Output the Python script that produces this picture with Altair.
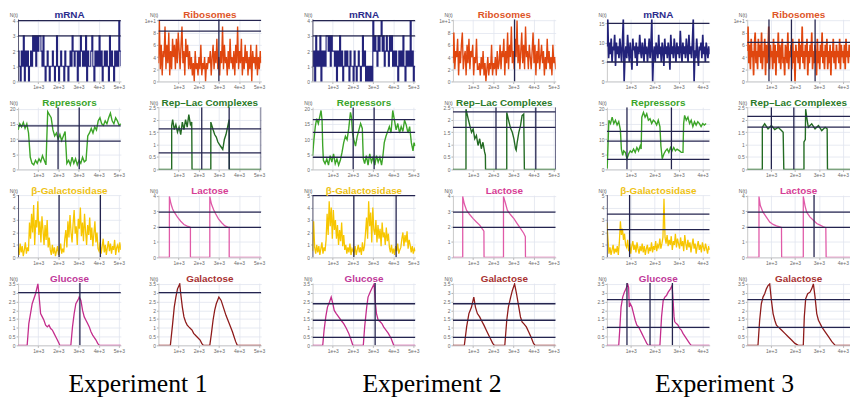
import altair as alt
import numpy as np
import pandas as pd

# ------------------------------------------------------------------ data
EXPERIMENTS = ["Experiment 1", "Experiment 2", "Experiment 3"]
T_MAX = [5100, 5100, 4300]
X_TICKS = [[1000, 2000, 3000, 4000, 5000],
           [1000, 2000, 3000, 4000, 5000],
           [1000, 2000, 3000, 4000]]

# ---- Experiment 1
e1_mrna = [2,1,0,2,1,3,0,2,1,2,0,1,2,1,
           3,2,3,1,3,2,3,3,2,1,3,
           1,0,1,2,1,0,1,1,2,1,0,1,3,1,0,1,2,1,1,0,2,1,1,0,1,
           2,1,3,2,1,2,2,0,2,1,3,2,
           1,2,1,3,0,2,1,1,2,3,1,0,2,1,2,1,3,1,2,0,1,2,
           1,2,1,0,3,1,2,1,0,2,1,2,1,4,2,1]
e1_ribo = [3,10,2,6,1,5,4,9,2,6,3,8,1,5,2,7,
           4,6,2,7,3,8,5,2,6,9,3,5,1,7,4,6,2,5,
           2,4,1,3,0,5,2,3,1,4,2,6,1,3,2,4,0,3,2,4,
           3,5,1,4,6,2,5,3,7,2,4,1,5,3,9,2,6,3,4,1,5,2,7,3,
           4,2,5,1,6,3,9,2,5,3,7,1,4,2,6,3,5,1,4,2,6,0,5,3,4,2,6,1,4,2,5,3]
e1_rep = [13,15,14,15.5,13.5,15,12,4,2,1.5,3,2,3.5,2.5,4.5,3,1.5,19,18,17,
          13,11,12,10,11.5,9.5,11,12.5,2,3,1.5,4,2,3.5,1.5,3,2,4,2.5,3,
          11,12,13.5,12,14,13,16,17,15,14.5,16,15,17,18.5,16,15,17,16,14.5,15]
e1_rl_t = [0,658,658,706,786,866,946,1026,1107,1187,1267,1347,1428,1508,1588,1652,1668,
           2600,2600,2711,2791,2871,2951,3031,3112,3192,3272,3352,3432,3510,3520,5100]
e1_rl_v = [0,0,1.76,2.0,1.6,1.8,1.5,1.7,1.4,1.9,1.6,2.0,1.7,2.2,1.8,1.9,0,
           0,1.9,1.6,1.4,1.3,1.1,1.0,0.9,0.8,1.2,1.4,1.7,2.0,0,0]
e1_bgal = [0.8,0.2,1.1,0.4,0.9,0.1,0.6,1.2,0.3,0.8,0.5,
           2.8,1.5,3.5,2.0,4.2,1.0,3.0,2.4,4.5,1.8,2.9,1.2,3.3,2.2,1.0,2.6,1.4,3.0,0.8,1.6,
           0.6,0.2,1.0,0.3,0.8,0.1,0.5,0.9,0.2,0.6,1.1,0.3,0.7,0.4,
           1.5,2.2,0.8,2.9,1.6,3.4,2.0,1.2,2.7,3.8,1.9,2.5,1.0,3.1,2.3,4.0,1.7,2.8,1.3,3.5,
           2.1,1.0,2.6,1.8,3.2,1.4,2.4,0.9,1.9,2.9,1.2,2.0,0.7,
           0.5,1.2,0.3,0.9,1.5,0.4,1.0,0.2,0.8,1.3,0.5,1.1,0.3,0.9,0.6,1.4,0.2,0.8,1.0,0.4,1.2,0.6]
e1_lac_t = [0,545,545,626,706,786,946,1107,1267,1428,1540,1588,1588,
            2550,2550,2630,2740,2830,2980,3140,3300,3440,3512,3512,5100]
e1_lac_v = [0,0,3.96,3.47,3.15,2.94,2.62,2.35,2.14,2.03,1.99,1.95,0,
            0,3.96,3.47,3.1,2.85,2.5,2.25,2.05,1.97,1.95,0,0]
e1_glu_t = [0,450,533,700,867,983,1033,1117,1200,1283,1367,1450,1533,1617,1700,1783,1867,1950,2033,2067,
            2617,2700,2783,2867,3000,3033,3117,3200,3283,3367,3450,3533,3617,3700,3867,3950,4033,5100]
e1_glu_v = [0,0,1.24,2.37,2.94,3.5,2.94,1.81,1.62,1.43,1.15,1.05,1.15,0.96,0.87,0.68,0.49,0.30,0.11,0,
            0,1.05,1.81,2.37,2.65,2.75,2.56,1.99,1.62,1.43,1.24,1.05,0.77,0.58,0.30,0.11,0,0]
e1_gal_t = [0,593,706,786,866,946,1059,1107,1187,1267,1347,1428,1508,1588,1668,1748,1909,2069,2149,2230,
            2550,2631,2711,2791,2871,3000,3112,3192,3272,3352,3513,3673,3753,3834,3914,5100]
e1_gal_v = [0,0,1.24,2.18,2.75,3.22,3.5,2.94,2.18,1.62,1.34,1.15,1.05,0.96,0.87,0.68,0.49,0.30,0.11,0,
            0,0.68,1.43,1.99,2.37,2.75,2.56,2.28,1.99,1.71,1.24,0.77,0.49,0.21,0,0]

# ---- Experiment 2
e2_mrna = [1,2,0,3,1,2,1,3,0,2,1,2,1,3,
           3,2,3,1,3,2,2,
           1,2,0,2,1,3,1,2,0,1,2,1,2,
           1,0,2,1,1,0,2,1,0,1,2,1,0,1,3,1,2,
           0,1,0,1,0,1,0,
           4,2,3,2,1,3,2,3,4,
           2,3,1,2,3,2,1,3,2,3,1,2,
           1,2,1,0,2,1,2,1,3,1,0,2,1,2,1,4,1,2,0,1,1]
e2_ribo = [3,8,2,5,4,7,1,5,3,6,8,2,4,5,1,6,3,7,2,5,4,6,1,4,3,7,2,
           2,3,1,4,2,5,1,3,0,2,4,1,3,2,6,1,3,2,4,1,5,2,
           3,6,2,5,4,7,1,5,3,8,2,6,4,9,3,5,2,7,4,10,3,6,2,5,8,3,6,2,9,4,5,2,6,
           4,2,5,8,3,6,1,5,3,7,2,4,6,3,5,1,4,2,7,3,5,2,4,1,6,3,4,2]
e2_rep_t = [0,67,134,201,285,369,420,470,503,537,621,705,789,873,956,1040,1124,1208,1292,1376,
            1460,1544,1628,1712,1795,1879,1930,1980,2047,2131,2215,2299,2383,2467,2517,2584,2668,2752,2836,2920,
            3004,3088,3171,3255,3339,3423,3490,3557,3641,3725,3809,3893,3977,4061,4145,4229,4313,4396,4480,4564,
            4648,4732,4816,4900,4984,5034,5100]
e2_rep_v = [4.5,9.8,14.1,16.7,15.1,17.8,19.4,16.2,7.7,3.0,1.9,3.5,1.4,4.5,2.4,5.1,1.9,3.5,1.4,3.0,
            5.6,8.8,10.9,9.8,13.5,18.8,17.2,12.0,9.8,7.7,10.9,13.0,15.1,13.5,3.5,1.9,4.5,1.4,5.1,2.4,
            4.0,1.4,4.5,2.4,4.0,1.4,4.5,8.8,10.9,12.5,14.1,12.0,19.4,16.2,13.0,15.1,12.0,14.1,12.5,16.2,
            14.6,12.0,14.1,8.8,6.1,8.8,7.7]
e2_rl_t = [0,648,648,761,842,923,1004,1085,1166,1247,1328,1409,1490,1571,1610,1619,
           2671,2671,2784,2865,2946,3027,3108,3140,3189,3270,3351,3432,3513,3546,5100]
e2_rl_v = [0,0,2.42,2.02,1.75,1.49,1.62,1.23,1.36,0.96,1.23,0.83,1.09,0.70,0.58,0,
           0,2.29,1.90,1.64,1.49,1.23,0.83,0.77,1.09,1.49,1.75,2.16,2.22,0,0]
e2_bgal = [0.5,2.9,0.8,0.3,1.0,
           0.4,0.9,0.2,0.7,1.2,0.3,0.8,0.5,1.4,
           3.5,1.8,4.5,2.5,4.0,1.5,3.8,2.2,3.0,
           1.5,2.6,1.0,2.2,1.3,2.8,0.9,1.8,
           0.6,1.0,0.3,0.8,0.4,1.1,0.2,0.7,0.5,
           0.3,0.9,0.2,0.6,1.0,0.4,0.8,0.2,1.2,0.5,0.9,
           2.0,3.2,1.5,4.5,2.5,3.6,1.2,4.0,2.2,
           1.8,3.0,1.2,2.6,1.5,2.3,0.9,2.8,1.6,2.0,1.0,2.4,1.3,1.9,0.8,
           0.4,1.0,0.3,0.7,0.2,0.9,0.5,1.1,0.3,0.6,0.8,
           1.5,2.0,0.9,1.8,1.2,2.1,0.7,1.4,1.0,
           0.4,0.9,0.3,0.7,0.5]
e2_lac_t = [0,486,486,567,680,842,1004,1166,1328,1441,1538,1545,
            2509,2509,2590,2703,2865,3027,3189,3351,3513,3594,3600,5100]
e2_lac_v = [0,0,3.96,3.47,3.05,2.77,2.52,2.3,2.1,1.88,1.7,0,
            0,3.96,3.6,3.05,2.77,2.52,2.2,1.88,1.57,1.35,0,0]
e2_glu_t = [0,503,571,654,738,839,923,1007,1074,1175,1292,1410,1544,1678,1795,1913,1997,
            2517,2584,2685,2752,2853,2970,3054,3104,3171,3255,3356,3440,3524,3641,3759,3893,4027,5100]
e2_glu_v = [0,0,0.87,1.62,2.18,2.47,2.75,2.37,1.99,1.81,1.62,1.43,1.24,0.96,0.68,0.30,0,
            0,1.05,2.18,2.75,3.03,3.31,3.5,2.56,1.81,1.43,1.34,1.24,1.05,0.87,0.68,0.40,0,0]
e2_gal_t = [0,567,680,793,923,1036,1117,1214,1328,1409,1538,1651,1813,1975,2056,
            2574,2671,2752,2866,2947,3060,3157,3270,3351,3432,3513,3643,3756,3869,3999,4080,5100]
e2_gal_v = [0,0,1.05,1.81,2.18,2.75,2.18,1.81,1.62,1.43,1.15,0.87,0.49,0.11,0,
            0,1.43,2.18,2.75,3.12,3.5,2.94,2.18,1.62,1.34,1.24,1.05,0.77,0.49,0.11,0,0]

# ---- Experiment 3
e3_mrna = [9,16,6,10,7,11,5,9,8,12,4,10,7,9,6,11,8,5,10,16,
           0,7,9,6,12,8,5,10,7,3,11,8,9,6,10,4,9,7,12,8,
           6,10,8,5,11,7,9,5,8,11,6,9,16,0,7,9,5,10,8,6,
           12,7,9,5,10,8,4,11,7,9,6,10,8,3,12,7,9,6,11,8,
           5,10,7,9,6,13,8,5,10,7,9,6,11,8,5,12,7,9,6,10,
           16,0,8,6,11,7,4,9,8,10,6,12,7,9,5,10,8,6,9,7]
e3_ribo = [5,9,3,6,2,7,4,5,1,6,8,3,5,2,7,4,6,3,8,2,
           5,4,7,1,6,3,5,9,2,6,4,5,2,7,3,6,1,5,4,8,
           3,6,2,5,7,3,4,1,6,5,3,8,2,5,4,6,2,7,3,5,
           0,6,4,5,3,7,2,6,4,9,3,5,2,6,4,7,1,5,3,6,
           4,8,2,5,3,6,4,1,7,3,5,2,6,4,8,3,5,2,6,4,
           7,2,5,3,6,1,5,4,7,3,5,2,6,4,5,3,7,2,6,4,
           5,3,6,2,7,4,5,3,6,4]
e3_rep_t = [0,14,83,152,220,289,358,427,496,565,606,661,703,772,841,909,978,1047,1116,1185,
            1254,1323,1392,1433,1461,1530,1598,1667,1736,1805,1874,1943,2012,2081,2150,2219,2260,2315,2384,2453,
            2522,2591,2660,2728,2797,2866,2935,3045,3114,3183,3211,3252,3321,3390,3459,3528,3597,3665,3734,3803,
            3872,3941,4010,4079,4148]
e3_rep_v = [0.5,0.5,16.2,15.1,17.2,15.1,16.2,14.6,15.7,13.0,6.7,4.6,6.1,5.6,3.5,5.1,6.1,5.6,6.7,5.6,
            7.2,6.1,7.7,6.7,17.2,18.8,17.2,18.3,16.2,16.7,15.1,16.2,15.7,14.6,16.2,14.1,7.7,3.5,5.1,6.1,
            6.7,5.6,7.2,6.1,7.2,6.1,6.7,6.1,5.6,5.6,15.1,17.8,16.2,17.2,15.1,16.2,14.1,15.7,14.6,15.7,
            15.1,14.1,15.1,14.6,15.1]
e3_rl_t = [0,632,632,730,871,1012,1152,1293,1433,1503,1531,
           2374,2374,2430,2445,2501,2557,2698,2838,2979,3119,3260,3344,3358,4300]
e3_rl_v = [0,0,1.69,1.83,1.63,1.76,1.60,1.69,1.56,1.49,0,
           0,1.10,1.20,2.42,2.02,1.69,1.83,1.63,1.76,1.56,1.69,1.63,0,0]
e3_bgal = [2.8,1.5,
           0.3,0.8,0.2,0.6,1.0,0.3,0.7,0.4,0.9,0.2,
           1.2,2.9,1.8,2.3,1.4,1.9,1.0,
           0.8,1.4,0.5,1.1,0.3,0.9,1.3,0.6,1.0,0.4,1.2,0.7,0.3,0.9,0.5,1.1,
           0.4,0.9,0.2,0.7,1.0,0.3,0.8,0.5,1.2,0.4,0.9,0.6,1.3,0.5,1.0,0.8,1.5,0.7,1.1,1.6,4.7,
           1.6,1.1,1.8,0.9,1.4,1.0,1.7,0.6,1.3,1.0,1.9,0.8,1.5,1.1,0.7,1.6,0.9,1.3,0.5,1.8,
           1.1,0.6,1.4,0.8,1.2,0.4,1.0,1.5,0.7,1.1,0.3,0.9,1.3,0.6,1.0,0.4,1.2,0.8,0.5,1.1,0.7,0.3,0.9,0.6]
e3_lac_t = [0,492,492,548,660,801,941,1082,1222,1363,1433,1440,
            2346,2346,2416,2487,2628,2768,2909,3049,3190,3288,3302,4300]
e3_lac_v = [0,0,3.96,3.37,2.94,2.62,2.3,2.14,2.05,1.99,1.95,0,
            0,3.96,3.37,2.94,2.62,2.41,2.2,2.1,1.99,1.93,0,0]
e3_glu_t = [0,496,537,593,661,730,799,868,909,937,978,1047,1116,1185,1254,1323,1392,1461,1530,1598,1667,1736,
            2219,2287,2356,2425,2494,2563,2660,2728,2770,2811,2839,2908,2976,3045,3114,3183,3321,3459,3528,4300]
e3_glu_v = [0,0,0.87,2.18,2.75,3.03,3.22,3.5,3.31,2.18,2.37,2.18,1.81,1.43,1.15,1.05,0.87,0.68,0.49,0.30,0.11,0,
            0,1.62,2.56,2.75,2.84,3.03,3.22,3.41,2.56,1.62,1.34,1.24,1.15,0.96,0.87,0.68,0.40,0.11,0,0]
e3_gal_t = [0,450,520,590,660,731,801,871,941,1012,1082,1152,1222,1293,1433,1574,1714,1855,1995,2136,
            2346,2388,2445,2529,2627,2698,2768,2838,2908,2979,3049,3119,3260,3400,3541,3681,4300]
e3_gal_v = [0,0,1.43,2.37,2.75,2.94,3.22,3.41,3.5,2.56,1.81,1.43,1.15,1.05,0.87,0.68,0.49,0.30,0.11,0,
            0,1.62,2.65,2.94,3.03,3.22,3.5,2.75,1.81,1.43,1.24,1.05,0.77,0.49,0.21,0,0]

# highlighted (dark) grid lines of each panel: (horizontal values, vertical times)
DARK_LINES = [
    {"mrna": ([4, 3], [0]), "ribo": ([10, 8.25], [3000]), "rep": ([14.3, 9.3], [1984, 3034]),
     "rl": ([1.63, 0.66], [2150, 3510, 5100]), "bgal": ([], [0, 2034, 4084]),
     "lac": ([2.94, 1.95], []), "glu": ([3.0], [3067]), "gal": ([3.0], [])},
    {"mrna": ([4, 3], [0]), "ribo": ([], [3060]), "rep": ([16.4, 12.2, 4.0], [2014, 3054]),
     "rl": ([2.31, 1.69], [2137, 4112, 5100]), "bgal": ([4.95], [0, 2047, 4145]),
     "lac": ([2.94, 1.95], []), "glu": ([2.37, 1.43, 0.45], [3104]), "gal": ([2.37, 1.43, 0.45], [])},
    {"mrna": ([14.9, 5.0], []), "ribo": ([6.4], [910, 1850, 2840]), "rep": ([12.5, 9.3, 3.3], [840, 2700]),
     "rl": ([2.13, 1.7], [1010, 1950]), "bgal": ([3.47, 2.22], [0, 950]),
     "lac": ([2.94, 1.95], [2796]), "glu": ([2.6, 1.02], [840, 1805, 2742]), "gal": ([2.6, 1.02], [])},
]

SERIES = [
    {"mrna": e1_mrna, "ribo": e1_ribo, "rep": e1_rep, "rl": (e1_rl_t, e1_rl_v), "bgal": e1_bgal,
     "lac": (e1_lac_t, e1_lac_v), "glu": (e1_glu_t, e1_glu_v), "gal": (e1_gal_t, e1_gal_v)},
    {"mrna": e2_mrna, "ribo": e2_ribo, "rep": (e2_rep_t, e2_rep_v), "rl": (e2_rl_t, e2_rl_v), "bgal": e2_bgal,
     "lac": (e2_lac_t, e2_lac_v), "glu": (e2_glu_t, e2_glu_v), "gal": (e2_gal_t, e2_gal_v)},
    {"mrna": e3_mrna, "ribo": e3_ribo, "rep": (e3_rep_t, e3_rep_v), "rl": (e3_rl_t, e3_rl_v), "bgal": e3_bgal,
     "lac": (e3_lac_t, e3_lac_v), "glu": (e3_glu_t, e3_glu_v), "gal": (e3_gal_t, e3_gal_v)},
]

# ------------------------------------------------------------------ styles
STYLE = {
    "mrna": dict(title="mRNA", color="#23237a", tcolor="#2b2b8c", ydom=[0, 4.1], yticks=[0, 1, 2, 3, 4], interp="step-after", sw=1.1),
    "ribo": dict(title="Ribosomes", color="#e0470f", tcolor="#de5528", ydom=[0, 10.2], yticks=[0, 2, 4, 6, 8, 10], interp="linear", sw=1.4),
    "rep": dict(title="Repressors", color="#3ca428", tcolor="#3aa52a", ydom=[0, 20.5], yticks=[0, 5, 10, 15, 20], interp="linear", sw=1.4),
    "rl": dict(title="Rep\u2013Lac Complexes", color="#236b23", tcolor="#2a7a2a", ydom=[0, 2.5], yticks=[0, 0.5, 1, 1.5, 2, 2.5], interp="linear", sw=1.4),
    "bgal": dict(title="\u03b2-Galactosidase", color="#f7c600", tcolor="#eec214", ydom=[0, 5], yticks=[0, 1, 2, 3, 4, 5], interp="linear", sw=1.3),
    "lac": dict(title="Lactose", color="#e05aa8", tcolor="#d63d95", ydom=[0, 4.05], yticks=[0, 1, 2, 3, 4], interp="linear", sw=1.3),
    "glu": dict(title="Glucose", color="#c42d8c", tcolor="#c0399a", ydom=[0, 3.55], yticks=[0, 0.5, 1, 1.5, 2, 2.5, 3, 3.5], interp="linear", sw=1.3),
    "gal": dict(title="Galactose", color="#8e1b1b", tcolor="#a83232", ydom=[0, 3.55], yticks=[0, 0.5, 1, 1.5, 2, 2.5, 3, 3.5], interp="linear", sw=1.3),
}
E3_MRNA = dict(ydom=[0, 16], yticks=[0, 5, 10, 15], interp="linear", sw=1.7)
E3_RIBO = dict(sw=1.7)

W, H = 104, 63
DARK = "#24244f"
ROWS = [("mrna", "ribo"), ("rep", "rl"), ("bgal", "lac"), ("glu", "gal")]
CAP_X = [119.5, 119, 119]


def panel(kind, series, tmax, xticks, dark, override=None):
    st = dict(STYLE[kind])
    if override:
        st.update(override)
    if isinstance(series, tuple):
        t, v = series
    else:
        v = series
        t = np.linspace(0, tmax, len(v))
    df = pd.DataFrame({"t": t, "v": v, "i": range(len(v))})
    xsc = alt.Scale(domain=[0, tmax], nice=False, zero=False)
    ysc = alt.Scale(domain=st["ydom"], nice=False, zero=False)
    xax = alt.Axis(values=xticks, format=".0e", title=None)
    yax = alt.Axis(values=st["yticks"], format="~g", title="N(t)", titleAngle=0, titleX=-9, titleY=-2,
                   titleAlign="left", titleBaseline="bottom")
    layers = [alt.Chart(df).mark_line(color=st["color"], strokeWidth=st["sw"], interpolate=st["interp"], clip=True)
              .encode(x=alt.X("t:Q", scale=xsc, axis=xax), y=alt.Y("v:Q", scale=ysc, axis=yax), order="i:Q")]
    hl, vl = dark
    if hl:
        layers.append(alt.Chart(pd.DataFrame({"v": hl})).mark_rule(color=DARK, strokeWidth=1.3, clip=True)
                      .encode(y=alt.Y("v:Q", scale=ysc, axis=yax)))
    if vl:
        layers.append(alt.Chart(pd.DataFrame({"t": vl})).mark_rule(color=DARK, strokeWidth=1.3, clip=True)
                      .encode(x=alt.X("t:Q", scale=xsc, axis=xax)))
    return alt.layer(*layers).properties(
        width=W, height=H,
        title=alt.TitleParams(text=st["title"], color=st["tcolor"], fontSize=10, fontWeight="bold",
                              font="Liberation Sans", anchor="middle", offset=-8))


experiments = []
for k, name in enumerate(EXPERIMENTS):
    rows = []
    for a, b in ROWS:
        cells = []
        for kind in (a, b):
            ov = None
            if k == 2 and kind == "mrna":
                ov = E3_MRNA
            elif k == 2 and kind == "ribo":
                ov = E3_RIBO
            cells.append(panel(kind, SERIES[k][kind], T_MAX[k], X_TICKS[k], DARK_LINES[k][kind], ov))
        rows.append(alt.hconcat(*cells, spacing=38, bounds="flush"))
    cap = alt.Chart(pd.DataFrame({"label": [name]})).mark_text(
        font="Liberation Serif", fontSize=26, color="black", baseline="alphabetic", align="center"
    ).encode(text="label:N", x=alt.value(CAP_X[k]), y=alt.value(30.5)).properties(width=246, height=34)
    experiments.append(alt.vconcat(*rows, cap, spacing=9, center=True))

chart = alt.hconcat(*experiments, spacing=38).properties(
    padding={"left": 0, "top": 0, "right": 0, "bottom": 0}
).configure_view(stroke=None).configure_axis(
    labelFontSize=5, labelColor="#6a6a6a", labelFont="Liberation Sans", labelPadding=1,
    tickSize=2, tickColor="#b0b0b0", domainColor="#c8c8c8", gridColor="#e1e4ef", gridWidth=0.8,
    titleFontSize=5, titleFontWeight="normal", titleColor="#555555", titleFont="Liberation Sans"
)

chart.save("out.html", embed_options={"renderer": "svg", "actions": False})
